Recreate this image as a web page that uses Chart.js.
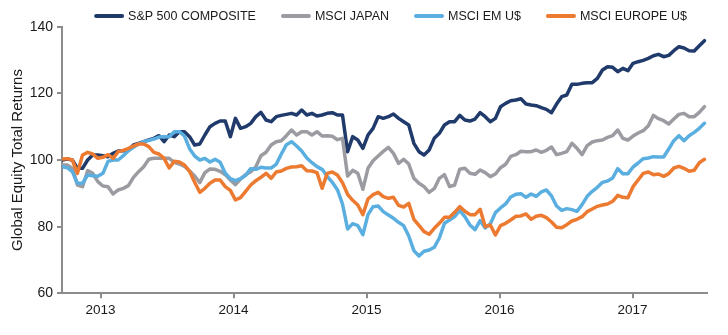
<!DOCTYPE html>
<html>
<head>
<meta charset="utf-8">
<script src="https://cdn.jsdelivr.net/npm/chart.js@4/dist/chart.umd.min.js"></script>
<style>
html, body { margin: 0; padding: 0; background: #fff; }
#wrap { width: 728px; height: 335px; }
</style>
</head>
<body>
<div id="wrap"><canvas id="chart" width="728" height="335"></canvas></div>
<script>
// Index series, rebased to 100, sampled fortnightly from mid-September 2012
const seriesNames = ['S&P 500 COMPOSITE', 'MSCI JAPAN', 'MSCI EM U$', 'MSCI EUROPE U$'];
const seriesColors = ['#1f3a6b', '#9b9ba2', '#5aaee0', '#ec7a30'];
const firstObs = 2012.711;          // first observation, decimal year
const obsStep = 14 / 365.25;        // two weeks, in years
const yearTicks = [2013, 2014, 2015, 2016, 2017];
const valueTicks = [60, 80, 100, 120, 140];

const spx = [
  100, 100.3, 100, 97.5, 97.5, 100, 101.5, 101.5, 101.3, 101,
  102, 102.7, 102.8, 103, 104.5, 105, 105.5, 106, 106.5, 107.3,
  105.5, 107.5, 107, 108.5, 108.5, 107, 104.5, 104.8, 107.5, 110,
  111, 111.7, 111.7, 107, 112.5, 109.5, 110, 111, 113, 114.3,
  112, 111.5, 113, 113.4, 113.7, 114, 113.5, 115, 113.5, 114,
  113.2, 113.5, 114, 114.2, 113.5, 113.5, 102.5, 107, 106, 103.5,
  107.5, 109.5, 113, 112.5, 113, 113.8, 112.5, 111.5, 110.5, 105,
  102.5, 101.5, 103, 106.5, 108, 110.5, 111.5, 111.5, 113.4, 112,
  111.7, 112.3, 114.2, 113, 111.5, 112.5, 116, 117, 117.8, 118,
  118.4, 116.8, 116.5, 116.3, 115.7, 115.2, 114.2, 116.8, 119, 119.5,
  122.7, 122.7, 123, 123.2, 123.2, 124.5, 127, 128, 127.8, 126.5,
  127.5, 126.8, 129, 129.5, 129.9, 130.5, 131.3, 131.7, 131, 131.4,
  132.8, 134, 133.6, 132.8, 132.7, 134.3, 135.8
];

const japan = [
  98.5, 98.5, 97.5, 92.5, 92, 96.8, 96, 93.5, 92.2, 92,
  89.8, 91, 91.5, 92.3, 94.8, 96.5, 98, 100.2, 100.5, 100.5,
  100.5, 100.5, 99.3, 98.8, 98.1, 96.7, 95.2, 93.2, 96.2, 97.3,
  97.2, 96.6, 95.6, 94, 92.6, 94.3, 95.6, 96.5, 98, 101.3,
  102.3, 104.5, 105.5, 105.8, 107.3, 109, 107.5, 108.5, 108.5, 107.5,
  108.5, 107.2, 107.3, 107.1, 106.1, 106.5, 95.2, 96.9, 96, 91.2,
  97.5, 99.8, 101.2, 102.6, 103.8, 102, 99, 100.2, 98.8, 94.5,
  93, 92, 90.3, 91.4, 94.5, 95.6, 92, 92.5, 97.2, 97.5,
  96, 95.7, 97, 96.2, 95, 95.8, 97.7, 98.7, 101.1, 101.6,
  102.6, 102.5, 102.5, 103, 102.3, 102.9, 103.9, 101.6, 102, 102.5,
  105, 103.5, 101.6, 104.3, 105.4, 105.8, 106, 106.8, 107.3, 109,
  106.5, 106, 107.2, 108.1, 108.8, 110.3, 113.4, 112.4, 111.8, 110.8,
  112.3, 113.7, 114, 113, 113, 114.3, 116
];

const em = [
  98, 97.7, 96.5, 93, 93, 95.5, 95.3, 95.1, 96, 99.6,
  100, 100, 101.3, 102.8, 103.8, 104.8, 105.5, 105.9, 106.3, 106.9,
  107, 107, 108.5, 108.5, 107.2, 103.4, 101.2, 100, 100.5, 99.4,
  100.2, 99.3, 96, 94.4, 93.8, 94.4, 95.4, 97.4, 97.2, 97.8,
  97.6, 97.6, 98.7, 101.8, 104.6, 105.5, 104.2, 102.7, 100.6, 99.2,
  98, 97.2, 95.1, 93.3, 91.1, 86.8, 79.3, 80.9, 80.3, 77.6,
  83.6, 86, 86.2, 84.5, 83.5, 82.5, 81.3, 80.3, 77.2, 72.8,
  71.2, 72.6, 73, 73.8, 76.6, 81, 82, 83, 84.9, 83,
  80.5, 79.1, 81.8, 79.6, 80.8, 84.2, 85.6, 86.8, 88.9, 89.7,
  89.9, 88.8, 89.8, 89.1, 90.4, 91, 89.2, 86.2, 84.9, 85.4,
  85.1, 84.6, 86.6, 89.1, 90.6, 91.8, 93.3, 93.7, 94.6, 97.4,
  95.9, 95.9, 97.9, 99.1, 100.4, 100.6, 101, 100.9, 100.9, 103.3,
  105.8, 107.3, 105.8, 107.3, 108.3, 109.5, 111
];

const europe = [
  100.3, 100.4, 100, 96, 101.5, 102.3, 101.8, 100.5, 100.8, 101.6,
  100.5, 102.5, 102.9, 103.5, 104.2, 104.8, 104.8, 104, 102.3, 101.8,
  100.5, 97.6, 99.6, 99.4, 98.5, 96.6, 93.3, 90.3, 91.5, 93,
  94, 94, 92, 90.9, 88, 88.7, 90.6, 92.5, 93.8, 94.8,
  96, 94.5, 96.4, 96.7, 97.5, 97.9, 98, 98.3, 96.8, 96.7,
  96.2, 91.5, 96, 96.4, 95.5, 93.2, 89.7, 87.9, 86.5, 83.6,
  88.3, 89.6, 90.3, 89, 88.5, 88.8, 86.4, 85.9, 87, 82.2,
  80.4, 78.5, 77.7, 79.5, 81, 82.8, 82.8, 84.3, 86, 84.6,
  83.6, 83.6, 85.2, 80, 80.5, 77.5, 80.3, 81, 82, 83.1,
  83.2, 83.8, 82.2, 83.1, 83.4, 82.7, 81.4, 79.8, 79.7, 80.6,
  81.7, 82.2, 83, 84.5, 85.3, 86.1, 86.5, 86.8, 87.6, 89.4,
  88.8, 88.7, 92, 94, 96, 96.4, 95.6, 95.8, 95.1, 95.9,
  97.6, 98.1, 97.5, 96.6, 96.9, 99.2, 100.2
];

const seriesValues = [spx, japan, em, europe];
const obsDates = spx.map((_, i) => firstObs + i * obsStep);

const FONT = '"Liberation Sans", Arial, sans-serif';
const TEXT = '#1a1a1a';
const AXIS = '#8c8c8c';

Chart.defaults.font.family = FONT;
Chart.defaults.color = TEXT;

// Legend of short thick strokes, centred over the plot area
const lineLegend = {
  id: 'lineLegend',
  afterDraw(chart) {
    const { ctx, chartArea } = chart;
    const swatch = 30, gap = 4, spacing = 25, y = 16;
    ctx.save();
    ctx.font = '12.5px ' + FONT;
    const items = chart.data.datasets.map(ds => ({
      label: ds.label,
      color: ds.borderColor,
      w: swatch + gap + ctx.measureText(ds.label).width
    }));
    const total = items.reduce((s, it) => s + it.w, 0) + spacing * (items.length - 1);
    let x = (chartArea.left + chartArea.right) / 2 - total / 2 + 6;
    ctx.textBaseline = 'middle';
    ctx.textAlign = 'left';
    items.forEach(it => {
      ctx.strokeStyle = it.color;
      ctx.lineWidth = 4;
      ctx.lineCap = 'round';
      ctx.beginPath();
      ctx.moveTo(x + 2, y);
      ctx.lineTo(x + swatch - 2, y);
      ctx.stroke();
      ctx.fillStyle = TEXT;
      ctx.fillText(it.label, x + swatch + gap, y + 0.5);
      x += it.w + spacing;
    });
    ctx.restore();
  }
};

const drawOrder = [4, 3, 2, 1]; // Europe on top, S&P underneath

new Chart(document.getElementById('chart'), {
  type: 'line',
  data: {
    datasets: seriesNames.map((name, s) => ({
      label: name,
      data: obsDates.map((d, i) => ({ x: d, y: seriesValues[s][i] })),
      borderColor: seriesColors[s],
      backgroundColor: seriesColors[s],
      borderWidth: 3.5,
      pointRadius: 0,
      tension: 0,
      borderJoinStyle: 'round',
      borderCapStyle: 'round',
      fill: false,
      order: drawOrder[s]
    }))
  },
  options: {
    responsive: false,
    animation: false,
    devicePixelRatio: 1,
    layout: { padding: { top: 26.7, right: 21, bottom: 0, left: 0 } },
    plugins: {
      legend: { display: false },
      tooltip: { enabled: false }
    },
    scales: {
      x: {
        type: 'linear',
        min: 2012.71,
        max: 2017.56,
        afterBuildTicks: s => { s.ticks = yearTicks.map(v => ({ value: v })); },
        afterFit: s => { s.height = 41.7; },
        ticks: {
          font: { size: 13.5 },
          color: TEXT,
          padding: 4,
          maxRotation: 0,
          autoSkip: false,
          callback: v => String(v)
        },
        grid: { display: true, drawOnChartArea: false, drawTicks: true, tickLength: 5, color: AXIS, lineWidth: 2 },
        border: { display: true, color: AXIS, width: 2 }
      },
      y: {
        min: 60,
        max: 140,
        afterBuildTicks: s => { s.ticks = valueTicks.map(v => ({ value: v })); },
        afterFit: s => { s.width = 62; },
        ticks: { font: { size: 14 }, color: TEXT, padding: 4 },
        grid: { display: true, drawOnChartArea: false, drawTicks: true, tickLength: 5, color: AXIS, lineWidth: 2 },
        border: { display: true, color: AXIS, width: 2 },
        title: {
          display: true,
          text: 'Global Equity Total Returns',
          font: { size: 15 },
          color: TEXT,
          padding: { top: 9, bottom: 0 }
        }
      }
    }
  },
  plugins: [lineLegend]
});
</script>
</body>
</html>
